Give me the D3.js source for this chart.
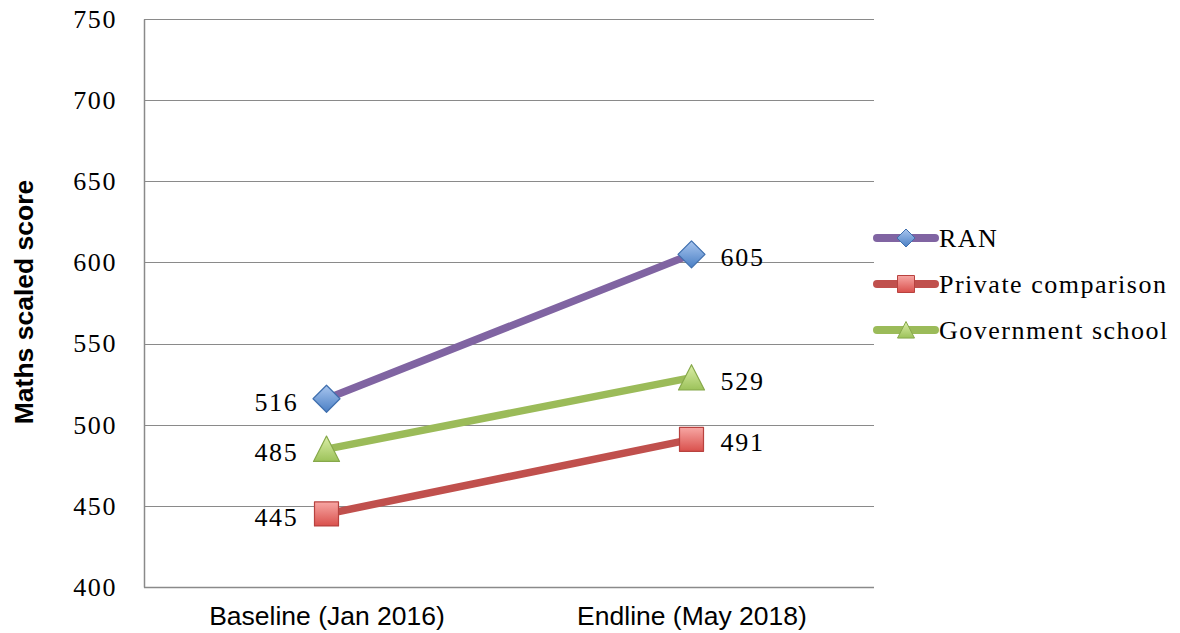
<!DOCTYPE html>
<html>
<head>
<meta charset="utf-8">
<script src="https://cdn.jsdelivr.net/npm/d3@7/dist/d3.min.js"></script>
<style>
  body { margin: 0; background: #fff; }
  svg { display: block; }
</style>
</head>
<body>
<script>
// chart data
const categories = ["Baseline (Jan 2016)", "Endline (May 2018)"];
const seriesNames = ["RAN", "Private comparison", "Government school"];
const ranScores = [516, 605];
const privateScores = [445, 491];
const governmentScores = [485, 529];
const yTicks = [400, 450, 500, 550, 600, 650, 700, 750];
const yTitle = "Maths scaled score";

const W = 1180, H = 633;
const plot = { left: 144, right: 874, top: 19, bottom: 587 };

const series = [
  { name: seriesNames[0], values: ranScores, line: "#8064A2", shape: "diamond", fill: "gRan", stroke: "#3f6fae" },
  { name: seriesNames[1], values: privateScores, line: "#C0504D", shape: "square", fill: "gPriv", stroke: "#b8423f" },
  { name: seriesNames[2], values: governmentScores, line: "#9BBB59", shape: "triangle", fill: "gGov", stroke: "#86a84a" }
];

const svg = d3.select("body").append("svg")
  .attr("width", W)
  .attr("height", H);

// marker gradients
const defs = svg.append("defs");
function grad(id, top, bottom) {
  const g = defs.append("linearGradient").attr("id", id)
    .attr("x1", 0).attr("y1", 0).attr("x2", 0).attr("y2", 1);
  g.append("stop").attr("offset", "0%").attr("stop-color", top);
  g.append("stop").attr("offset", "100%").attr("stop-color", bottom);
}
grad("gRan", "#a9c6ef", "#4a7fc4");
grad("gPriv", "#f7a7a4", "#d9504c");
grad("gGov", "#dcefa8", "#9cc25a");

const x = d3.scalePoint()
  .domain(categories)
  .range([plot.left, plot.right])
  .padding(0.5);

const y = d3.scaleLinear()
  .domain([400, 750])
  .range([plot.bottom, plot.top]);

// gridlines
svg.append("g")
  .selectAll("line")
  .data(yTicks)
  .join("line")
  .attr("x1", plot.left)
  .attr("x2", plot.right)
  .attr("y1", d => Math.round(y(d)) + 0.5)
  .attr("y2", d => Math.round(y(d)) + 0.5)
  .attr("stroke", "#8a8a8a")
  .attr("stroke-width", 1.2);

// y axis
const yAxis = svg.append("g")
  .attr("transform", `translate(${plot.left},0)`)
  .call(d3.axisLeft(y).tickValues(yTicks).tickSize(0).tickPadding(27));
yAxis.select(".domain").attr("stroke", "#8a8a8a").attr("stroke-width", 1.5);
yAxis.selectAll("text")
  .attr("font-family", "Liberation Serif, serif")
  .attr("font-size", 26)
  .attr("letter-spacing", 1.6)
  .attr("fill", "#000");

// x axis
const xAxis = svg.append("g")
  .attr("transform", `translate(0,${plot.bottom})`)
  .call(d3.axisBottom(x).tickSize(0).tickPadding(19));
xAxis.select(".domain").attr("stroke", "#8a8a8a").attr("stroke-width", 1.5)
  .attr("d", `M${plot.left},0.5H${plot.right}`);
xAxis.selectAll("text")
  .attr("font-family", "Liberation Sans, Arial, sans-serif")
  .attr("font-size", 26.5)
  .attr("fill", "#000");

// y title
svg.append("text")
  .attr("transform", `translate(33,${(plot.top + plot.bottom) / 2 - 1}) rotate(-90)`)
  .attr("text-anchor", "middle")
  .attr("font-family", "Liberation Sans, Arial, sans-serif")
  .attr("font-weight", "bold")
  .attr("font-size", 26.5)
  .text(yTitle);

function markerPath(shape, size) {
  const s = size / 2;
  if (shape === "diamond") return `M0,${-s}L${s},0L0,${s}L${-s},0Z`;
  if (shape === "square") return `M${-s},${-s}H${s}V${s}H${-s}Z`;
  return `M0,${-s}L${s},${s * 0.95}H${-s}Z`;
}

const line = d3.line()
  .x((d, i) => x(categories[i]))
  .y(d => y(d));

const layer = svg.append("g");
series.forEach(s => {
  layer.append("path")
    .attr("d", line(s.values))
    .attr("fill", "none")
    .attr("stroke", s.line)
    .attr("stroke-width", 7.5)
    .attr("stroke-linecap", "round");
});
series.forEach(s => {
  const size = s.shape === "diamond" ? 27 : (s.shape === "square" ? 24 : 26);
  layer.selectAll(null)
    .data(s.values)
    .join("path")
    .attr("transform", (d, i) => `translate(${x(categories[i])},${y(d)})`)
    .attr("d", markerPath(s.shape, size))
    .attr("fill", `url(#${s.fill})`)
    .attr("stroke", s.stroke)
    .attr("stroke-width", 1.2)
    .attr("stroke-linejoin", "round");

  // data labels: left of first point, right of second
  layer.selectAll(null)
    .data(s.values)
    .join("text")
    .attr("x", (d, i) => x(categories[i]) + (i === 0 ? -28 : 29))
    .attr("y", d => y(d) + 12)
    .attr("text-anchor", (d, i) => i === 0 ? "end" : "start")
    .attr("font-family", "Liberation Serif, serif")
    .attr("font-size", 26)
    .attr("letter-spacing", 1.7)
    .text(d => d);
});

// legend
const legend = svg.append("g").attr("transform", "translate(877,238)");
const rows = legend.selectAll("g")
  .data(series)
  .join("g")
  .attr("transform", (d, i) => `translate(0,${i * 46})`);
rows.append("line")
  .attr("x1", 0).attr("x2", 58)
  .attr("stroke", d => d.line)
  .attr("stroke-width", 8)
  .attr("stroke-linecap", "round");
rows.append("path")
  .attr("transform", "translate(29,0)")
  .attr("d", d => markerPath(d.shape, d.shape === "diamond" ? 18 : 17))
  .attr("fill", d => `url(#${d.fill})`)
  .attr("stroke", d => d.stroke)
  .attr("stroke-width", 1);
rows.append("text")
  .attr("x", 62)
  .attr("y", 9)
  .attr("font-family", "Liberation Serif, serif")
  .attr("font-size", 26)
  .attr("letter-spacing", 1.5)
  .text(d => d.name);
</script>
</body>
</html>
